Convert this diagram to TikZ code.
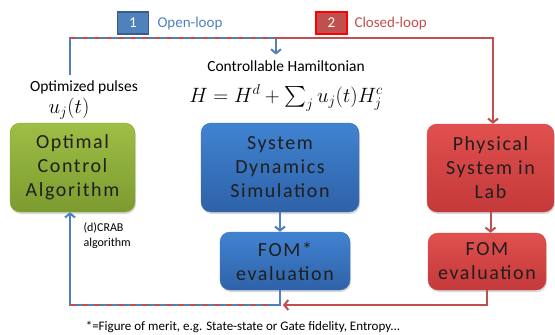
\documentclass[tikz,border=0pt]{standalone}
\usepackage{exscale}
\usepackage{fontspec}
\setmainfont{Carlito}
\newfontfamily\boxfont[LetterSpace=8]{Carlito}
\usetikzlibrary{arrows.meta,shadows}
\definecolor{lblue}{HTML}{4F81BD}
\definecolor{dblue}{HTML}{385D8A}
\definecolor{lred}{HTML}{C0504D}
\definecolor{gtop}{HTML}{9EBE45}
\definecolor{gbot}{HTML}{7B9B30}
\definecolor{btop}{HTML}{4183D1}
\definecolor{bbot}{HTML}{2E62A8}
\definecolor{rtop}{HTML}{E0504E}
\definecolor{rbot}{HTML}{C4393A}
\tikzset{
  tag/.style={minimum width=31pt,minimum height=22pt,inner sep=0pt,line width=1.2pt,text=white,font=\fontsize{15}{15}\selectfont},
  blk/.style={rounded corners=10pt,align=center,inner sep=0pt,text=black!88,font=\boxfont\fontsize{20}{24}\selectfont,
    drop shadow={opacity=0.3,shadow xshift=1pt,shadow yshift=-2pt}},
  gbox/.style={top color=gtop,bottom color=gbot,draw=gbot!90!white},
  bbox/.style={top color=btop,bottom color=bbot,draw=bbot!90!white},
  rbox/.style={top color=rtop,bottom color=rbot,draw=rbot!90!white},
  bline/.style={draw=lblue,line width=2pt},
  rline/.style={draw=lred,line width=2pt},
  rdash/.style={draw=lred,line width=2pt,dash pattern=on 6pt off 6pt},
  tip/.style={-{Straight Barb[length=4pt,width=10pt]}}
}
\begin{document}
\begin{tikzpicture}[x=1pt,y=-1pt]
\useasboundingbox (0,0) rectangle (555,335);
\node[tag,fill=lblue,draw=dblue] (n1) at (133,23) {1};
\node[anchor=west,text=lblue,font=\fontsize{15}{15}\selectfont] (ol) at (154,23) {Open-loop};
\node[tag,fill=lred,draw=red] (n2) at (331.5,23) {2};
\node[anchor=west,text=lred,font=\fontsize{15}{15}\selectfont] (cl) at (351,23) {Closed-loop};

\node[blk,gbox,minimum width=125,minimum height=89] (oca) at (72.5,167.5) {Optimal\\Control\\Algorithm};
\node[blk,bbox,minimum width=158,minimum height=89] (sim) at (280,167.5) {System\\Dynamics\\Simulation};
\node[blk,bbox,minimum width=130,minimum height=58] (fom1) at (285,261) {FOM*\\evaluation};
\node[blk,rbox,minimum width=127,minimum height=88] (lab) at (490.5,168) {Physical\\System in\\Lab};
\node[blk,rbox,minimum width=118,minimum height=57] (fom2) at (487,261.5) {FOM\\evaluation};

\node[inner sep=0pt,font=\fontsize{15.5}{15.5}\selectfont] (ham) at (286,66) {Controllable Hamiltonian};
\node[inner sep=0pt,font=\fontsize{21}{21}\selectfont] (eq) at (286,98) {$H=H^d+\sum_j u_j(t)H_j^c$};
\node[font=\fontsize{15.5}{15.5}\selectfont] (op) at (84,87) {Optimized pulses};
\node[font=\fontsize{21}{21}\selectfont] (uj) at (69,109) {$u_j(t)$};
\node[align=left,anchor=north west,font=\fontsize{12}{15}\selectfont] (crab) at (80,219) {(d)CRAB\\algorithm};
\node[font=\fontsize{13}{13}\selectfont] (fn) at (243,327) {*=Figure of merit, e.g. State-state or Gate fidelity, Entropy...};

\coordinate (pt) at (70,75);
\coordinate (tl) at (70,37.5);
\coordinate (ta) at (276,37.5);
\coordinate (tr) at (493,37.5);
\coordinate (bl) at (70,305);
\coordinate (bm) at (283,305);

% open loop: pulses up to the hamiltonian
\draw[bline] (pt) -- (tl) -- (ta);
\draw[bline,tip] (ta) -- ++(0,17);
% closed loop: on to the lab
\draw[rline,tip] (ta) -- (tr) -- (lab.north -| tr);
\draw[rdash] (tl) -- (ta);

\draw[bline,tip] (sim) -- (sim |- fom1.north);
\draw[rline,tip] (lab) -- (lab |- fom2.north);

% back to the algorithm
\draw[bline,tip] (sim |- fom1.south) |- (bl) -- (bl |- oca.south);
\draw[rdash] (bl) -- ++(200,0);
\draw[rline,tip] (fom2.south) |- (bm);
\end{tikzpicture}
\end{document}
